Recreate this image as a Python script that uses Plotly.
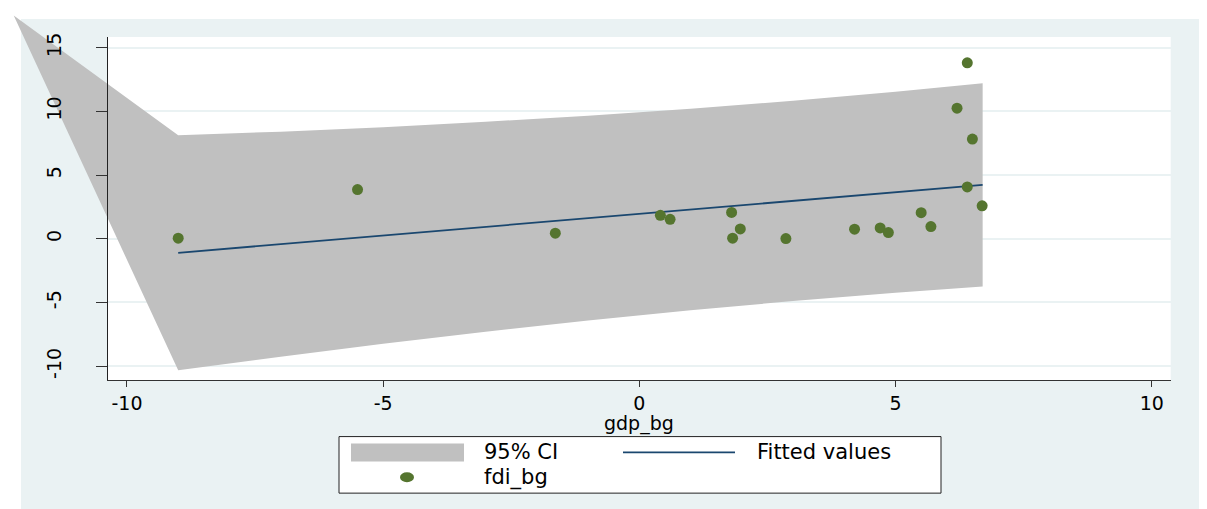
import plotly.graph_objects as go

# ---------------- data ----------------
gdp_bg = [-9.0, -5.5, -1.64, 0.41, 0.60, 1.80, 1.97, 1.82, 2.86, 4.20,
          4.70, 4.86, 5.50, 5.69, 6.20, 6.40, 6.50, 6.40, 6.69]
fdi_bg = [0.05, 3.86, 0.44, 1.84, 1.53, 2.07, 0.77, 0.05, 0.02, 0.75,
          0.85, 0.49, 2.05, 0.96, 10.25, 13.81, 7.83, 4.07, 2.59]

fit_x = [-9.0, 6.7]
fit_y = [-1.10, 4.23]

ci_x = [-12.21, -9.0, -7.0, -5.0, -3.0, -1.0, 1.0, 3.0, 5.0, 6.7]
ci_upper = [17.52, 8.12, 8.41, 8.76, 9.18, 9.66, 10.21, 10.83, 11.54, 12.21]
ci_lower = [17.52, -10.32, -9.25, -8.24, -7.30, -6.42, -5.61, -4.89, -4.24, -3.75]

x_ticks = [-10, -5, 0, 5, 10]
y_ticks = [-10, -5, 0, 5, 10, 15]
X_RANGE = [-10.37, 10.37]
Y_RANGE = [-11.11, 15.83]

# ---------------- layout geometry (screen pixels) ----------------
SCREEN_W, SCREEN_H = 1207, 509
OFF = 8                       # default page margin around the figure div
W, H = SCREEN_W - OFF, SCREEN_H - OFF
PL, PR, PT, PB = 108.0, 1170.7, 33.3, 379.3   # plot region on screen


def fx(p):
    return (p - OFF) / W


def fy(p):
    return 1 - (p - OFF) / H


# full-figure axis ranges with the same scale as the plot region
sx = (X_RANGE[1] - X_RANGE[0]) / (PR - PL)
sy = (Y_RANGE[1] - Y_RANGE[0]) / (PB - PT)
X_FULL = [X_RANGE[0] - (PL - OFF) * sx, X_RANGE[1] + (OFF + W - PR) * sx]
Y_FULL = [Y_RANGE[0] - (OFF + H - PB) * sy, Y_RANGE[1] + (PT - OFF) * sy]

NAVY = "#1A476F"
GREEN = "#55752F"
GRAY = "#C0C0C0"
BG = "#EAF2F3"
FONT = "DejaVu Sans"

fig = go.Figure()

# placeholder trace so the grid subplot exists
fig.add_trace(go.Scatter(x=[], y=[], xaxis="x", yaxis="y", showlegend=False))

# CI band (drawn on full-figure axes so it may overflow like the original)
poly_x = ci_x + ci_x[::-1]
poly_y = ci_upper + ci_lower[::-1]
fig.add_trace(go.Scatter(x=poly_x, y=poly_y, xaxis="x2", yaxis="y2",
                         fill="toself", fillcolor=GRAY, mode="lines",
                         line=dict(width=0, color=GRAY), name="95% CI",
                         showlegend=False, hoverinfo="skip"))
fig.add_trace(go.Scatter(x=fit_x, y=fit_y, xaxis="x2", yaxis="y2",
                         mode="lines", line=dict(color=NAVY, width=1.8),
                         name="Fitted values", showlegend=False))
fig.add_trace(go.Scatter(x=gdp_bg, y=fdi_bg, xaxis="x2", yaxis="y2",
                         mode="markers",
                         marker=dict(color=GREEN, size=11, line=dict(width=0)),
                         name="fdi_bg", showlegend=False))

# placeholder trace so the visible-axes subplot exists
fig.add_trace(go.Scatter(x=[], y=[], xaxis="x3", yaxis="y3", showlegend=False))

dom_x = [fx(PL), fx(PR)]
dom_y = [fy(PB), fy(PT)]

fig.update_layout(
    width=W, height=H,
    margin=dict(l=0, r=0, t=0, b=0, pad=0),
    paper_bgcolor="white",
    plot_bgcolor="rgba(0,0,0,0)",
    showlegend=False,
    font=dict(family=FONT, color="black", size=19),
    # grid layer
    xaxis=dict(domain=dom_x, range=X_RANGE, anchor="y", showgrid=False,
               zeroline=False, showline=False, showticklabels=False,
               ticks="", tickvals=x_ticks),
    yaxis=dict(domain=dom_y, range=Y_RANGE, anchor="x", showgrid=True,
               gridcolor=BG, gridwidth=1.6, zeroline=False, showline=False,
               showticklabels=False, ticks="", tickvals=y_ticks),
    # full-figure data axes
    xaxis2=dict(domain=[0, 1], range=X_FULL, anchor="y2", visible=False),
    yaxis2=dict(domain=[0, 1], range=Y_FULL, anchor="x2", visible=False),
    # visible axes on top
    xaxis3=dict(domain=dom_x, range=X_RANGE, anchor="y3", showgrid=False,
                zeroline=False, showline=True, linecolor="#333333",
                linewidth=1.2, ticks="outside", ticklen=6, tickwidth=1.2,
                tickcolor="#333333", tickvals=x_ticks,
                ticktext=[str(v) for v in x_ticks],
                tickfont=dict(family=FONT, size=19)),
    yaxis3=dict(domain=dom_y, range=Y_RANGE, anchor="x3", showgrid=False,
                zeroline=False, showline=True, linecolor="#222222",
                linewidth=1.2, ticks="outside", ticklen=11, tickwidth=1.2,
                tickcolor="#333333", tickvals=y_ticks,
                ticktext=[str(v) for v in y_ticks], tickangle=-90,
                tickfont=dict(family=FONT, size=19), ticklabelstandoff=27),
)

shapes = [
    # outer light background
    dict(type="rect", xref="paper", yref="paper", layer="below",
         x0=fx(21), x1=1, y0=0, y1=fy(15), fillcolor=BG, line=dict(width=0)),
    # white plot region
    dict(type="rect", xref="paper", yref="paper", layer="below",
         x0=fx(PL), x1=fx(PR), y0=fy(PB), y1=fy(PT), fillcolor="white",
         line=dict(width=0)),
    # legend box
    dict(type="rect", xref="paper", yref="paper", layer="above",
         x0=fx(339), x1=fx(941), y0=fy(493), y1=fy(436), fillcolor="white",
         line=dict(color="#222222", width=1)),
    # legend keys
    dict(type="rect", xref="paper", yref="paper", layer="above",
         x0=fx(351), x1=fx(464), y0=fy(461), y1=fy(443), fillcolor=GRAY,
         line=dict(width=0)),
    dict(type="line", xref="paper", yref="paper", layer="above",
         x0=fx(623), x1=fx(735), y0=fy(452), y1=fy(452),
         line=dict(color=NAVY, width=1.8)),
    dict(type="circle", xref="paper", yref="paper", layer="above",
         x0=fx(400), x1=fx(414), y0=fy(482), y1=fy(472), fillcolor=GREEN,
         line=dict(width=0)),
]
fig.update_layout(shapes=shapes)

annotations = [
    dict(text="gdp_bg", x=fx(639), y=fy(423), xanchor="center", size=19),
    dict(text="95% CI", x=fx(482), y=fy(452)),
    dict(text="Fitted values", x=fx(755), y=fy(452)),
    dict(text="fdi_bg", x=fx(482), y=fy(477)),
]
for a in annotations:
    a.setdefault("xanchor", "left")
    fsize = a.pop("size", 21)
    a.update(xref="paper", yref="paper", yanchor="middle",
             showarrow=False, font=dict(family=FONT, size=fsize, color="black"))
fig.update_layout(annotations=annotations)

fig.write_html("out.html")
